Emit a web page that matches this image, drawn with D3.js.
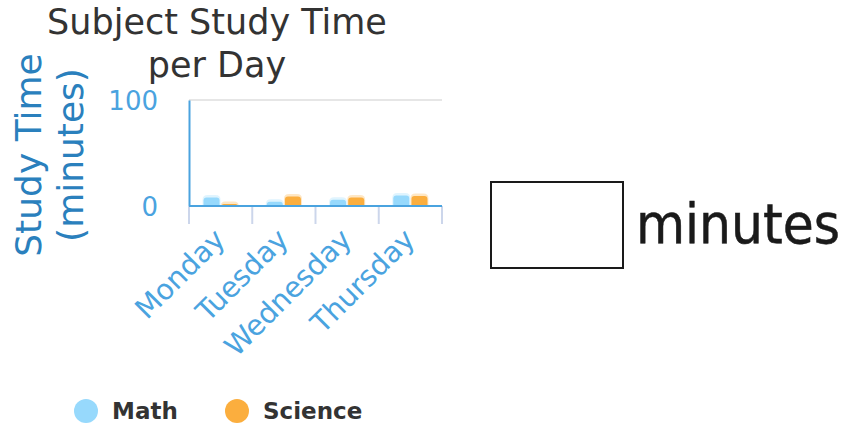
<!DOCTYPE html>
<html>
<head>
<meta charset="utf-8">
<script src="https://cdn.jsdelivr.net/npm/d3@7"></script>
<style>
  body { margin: 0; background: #fff; }
  svg { display: block; font-family: "DejaVu Sans", sans-serif; }
</style>
</head>
<body>
<div id="chart"></div>
<script>
// data
const days = ["Monday", "Tuesday", "Wednesday", "Thursday"];
const subjects = ["Math", "Science"];
const mathMinutes = [8, 4, 6, 10];
const scienceMinutes = [2, 9, 8, 9.5];
const yTicks = [0, 100];

const width = 843, height = 430;
const colors = {Math: "#97d9fc", Science: "#fbae3e"};
const seriesValues = {Math: mathMinutes, Science: scienceMinutes};

const svg = d3.select("#chart").append("svg")
    .attr("width", width)
    .attr("height", height);

// plot area
const plot = {left: 189, right: 442, top: 100, bottom: 206};

const x0 = d3.scaleBand()
    .domain(days)
    .range([plot.left, plot.right]);

const x1 = d3.scaleBand()
    .domain(subjects)
    .range([0, x0.bandwidth()])
    .paddingInner(0.12)
    .paddingOuter(0.8);

const y = d3.scaleLinear()
    .domain([0, 100])
    .range([plot.bottom, plot.top]);

// title
const title = svg.append("text")
    .attr("text-anchor", "middle")
    .attr("fill", "#333")
    .attr("font-size", 35);
title.append("tspan").attr("x", 217).attr("y", 34).text("Subject Study Time");
title.append("tspan").attr("x", 217).attr("y", 77).text("per Day");

// grid line at the top tick
svg.append("g")
    .selectAll("line")
    .data(yTicks.filter(d => d > 0))
    .join("line")
    .attr("x1", plot.left)
    .attr("x2", plot.right)
    .attr("y1", d => y(d))
    .attr("y2", d => y(d))
    .attr("stroke", "#e6e6e6")
    .attr("stroke-width", 2);

// y axis
const yAxis = svg.append("g")
    .attr("transform", `translate(${plot.left},0)`)
    .call(d3.axisLeft(y).tickValues(yTicks).tickSize(0).tickPadding(31));
yAxis.select(".domain")
    .attr("stroke", "#4aa3df")
    .attr("stroke-width", 2);
yAxis.selectAll("text")
    .attr("fill", "#4aa3df")
    .attr("font-size", 26)
    .attr("font-family", "DejaVu Sans, sans-serif")
    .attr("dy", "0.38em");

// y axis title
const yTitle = svg.append("text")
    .attr("transform", "translate(0,155) rotate(-90)")
    .attr("text-anchor", "middle")
    .attr("fill", "#2a80bd")
    .attr("font-size", 36);
yTitle.append("tspan").attr("x", 0).attr("y", 41).text("Study Time");
yTitle.append("tspan").attr("x", 0).attr("y", 83).text("(minutes)");

// tick marks on band edges
const edges = days.map(d => x0(d)).concat([plot.right]);
svg.append("g")
    .selectAll("line")
    .data(edges)
    .join("line")
    .attr("x1", d => d)
    .attr("x2", d => d)
    .attr("y1", plot.bottom)
    .attr("y2", plot.bottom + 18)
    .attr("stroke", "#ccd6eb")
    .attr("stroke-width", 2);

// bars
const topRounded = (bx, by, bw, bh, r) => {
    r = Math.min(r, bh, bw / 2);
    return `M${bx},${by + bh}V${by + r}Q${bx},${by} ${bx + r},${by}` +
        `H${bx + bw - r}Q${bx + bw},${by} ${bx + bw},${by + r}V${by + bh}Z`;
};

const groups = svg.append("g")
    .selectAll("g")
    .data(days)
    .join("g")
    .attr("transform", d => `translate(${x0(d)},0)`);

const cells = groups.selectAll("g")
    .data((d, i) => subjects.map(s => ({key: s, value: seriesValues[s][i]})))
    .join("g");

// soft halo above each bar top
cells.append("path")
    .attr("fill", d => colors[d.key])
    .attr("opacity", 0.3)
    .attr("d", d => topRounded(x1(d.key) - 1, y(d.value) - 2.5, x1.bandwidth() + 2, y(0) - y(d.value) + 2.5, 5));

cells.append("path")
    .attr("fill", d => colors[d.key])
    .attr("d", d => topRounded(x1(d.key), y(d.value), x1.bandwidth(), y(0) - y(d.value), 3));

// x axis line
svg.append("line")
    .attr("x1", plot.left)
    .attr("x2", plot.right)
    .attr("y1", plot.bottom)
    .attr("y2", plot.bottom)
    .attr("stroke", "#4aa3df")
    .attr("stroke-width", 2);

// x labels, rotated
svg.append("g")
    .selectAll("text")
    .data(days)
    .join("text")
    .attr("transform", d => `translate(${x0(d) + x0.bandwidth() / 2 - 1},${plot.bottom + 28}) rotate(-45)`)
    .attr("text-anchor", "end")
    .attr("dy", "0.35em")
    .attr("fill", "#4aa3df")
    .attr("font-size", 28.5)
    .text(d => d);

// legend
const legend = svg.append("g")
    .selectAll("g")
    .data(subjects)
    .join("g")
    .attr("transform", (d, i) => `translate(${86 + i * 151},411)`);
legend.append("circle")
    .attr("r", 12)
    .attr("fill", d => colors[d]);
legend.append("text")
    .attr("x", 26)
    .attr("y", 8)
    .attr("fill", "#333")
    .attr("font-weight", "bold")
    .attr("font-size", 23)
    .text(d => d);

// answer box
svg.append("rect")
    .attr("x", 491)
    .attr("y", 182)
    .attr("width", 132)
    .attr("height", 86)
    .attr("fill", "none")
    .attr("stroke", "#1a1a1a")
    .attr("stroke-width", 2);

svg.append("text")
    .attr("x", 636)
    .attr("y", 243)
    .attr("fill", "#1a1a1a")
    .attr("stroke", "#1a1a1a")
    .attr("stroke-width", 0.5)
    .attr("font-size", 56)
    .attr("font-family", "DejaVu Sans Condensed, DejaVu Sans, sans-serif")
    .text("minutes");
</script>
</body>
</html>
